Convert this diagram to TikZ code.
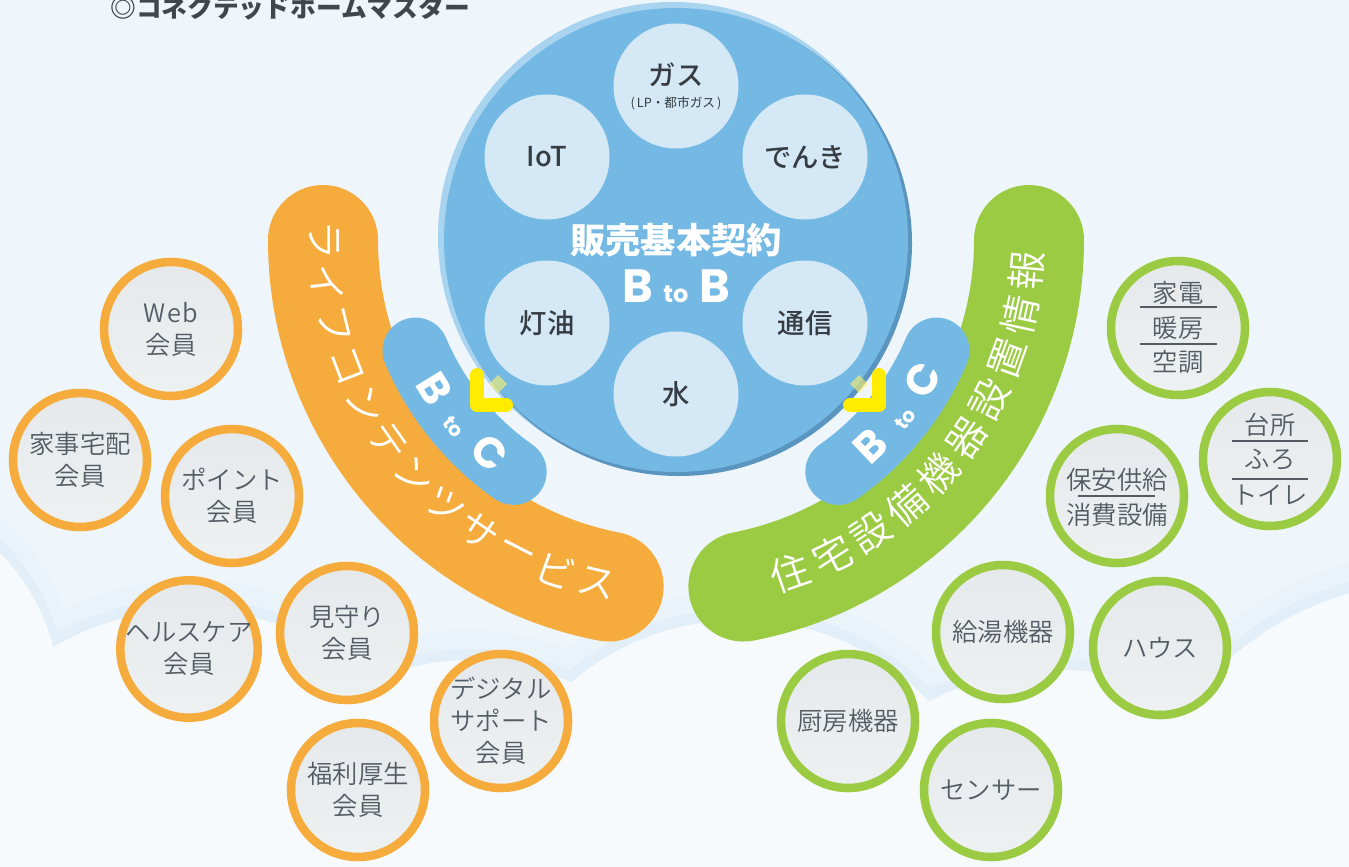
\documentclass[tikz,border=0pt]{standalone}
\usepackage{fontspec}
\setmainfont{Noto Sans CJK JP}
\newfontfamily\jp{Noto Sans CJK JP}
\IfFontExistsTF{Noto Sans CJK JP DemiLight}{\newfontfamily\jpl{Noto Sans CJK JP DemiLight}}{\newfontfamily\jpl{Noto Sans CJK JP}}
\IfFontExistsTF{Noto Sans CJK JP Medium}{\newfontfamily\jpm{Noto Sans CJK JP Medium}}{\newfontfamily\jpm{Noto Sans CJK JP}}
\newfontfamily\pop{Poppins}
\usetikzlibrary{calc}
\definecolor{bg}{HTML}{EFF6FB}
\definecolor{cloud}{HTML}{F6FAFD}
\definecolor{cloudrimA}{HTML}{EAF2FA}
\definecolor{cloudrimB}{HTML}{E2EEF8}
\definecolor{mainblue}{HTML}{74B9E4}
\definecolor{rimlight}{HTML}{A9D4EF}
\definecolor{rimdark}{HTML}{5A95C0}
\definecolor{innerblue}{HTML}{D4E8F6}
\definecolor{orangeb}{HTML}{F5AC3D}
\definecolor{greenb}{HTML}{9BCB43}
\definecolor{yel}{HTML}{FFEC00}
\definecolor{darktext}{HTML}{363C42}
\definecolor{graytext}{HTML}{535C64}
\definecolor{titlegray}{HTML}{3F464C}
\definecolor{satA}{HTML}{E5E9EB}
\definecolor{satB}{HTML}{EEF1F2}
\tikzset{
  innercirc/.style={circle, fill=innerblue, minimum size=93.75pt, inner sep=0pt, text=darktext, font=\jpm\fontsize{20.5}{24}\selectfont},
  osat/.style={circle, draw=orangeb, line width=6.4pt, top color=satA, bottom color=satB, minimum size=100.5pt, inner sep=0pt, align=center, text=graytext, font=\jpl\fontsize{19}{24}\selectfont},
  gsat/.style={osat, draw=greenb},
  sattxt/.style={inner sep=0pt, text=graytext, font=\jpl\fontsize{19}{24}\selectfont},
  bandtxt/.style={inner sep=0pt, text=white, font=\jpl\fontsize{29.5}{29.5}\selectfont},
  yellowmark/.style={draw=yel, line width=10.5pt, line cap=round, line join=round},
  divider/.style={draw=graytext, line width=1.1pt},
}
\begin{document}
\begin{tikzpicture}[x=0.75pt,y=0.75pt]
\useasboundingbox (0,0) rectangle (1349,-867);
\begin{scope}
\clip (0,0) rectangle (1349,-867);
\fill[bg] (0,0) rectangle (1349,-867);
% clouds
\foreach \cx/\cy/\r in {-150/700/210, 190/880/270, 470/900/240, 740/880/260, 1060/960/290, 1440/900/320}
  {\fill[cloudrimA] (\cx,-\cy+12) circle[radius=\r+18];}
\foreach \cx/\cy/\r in {-150/700/210, 190/880/270, 470/900/240, 740/880/260, 1060/960/290, 1440/900/320}
  {\fill[cloudrimB] (\cx,-\cy+4) circle[radius=\r+7];}
\foreach \cx/\cy/\r in {-150/700/210, 190/880/270, 470/900/240, 740/880/260, 1060/960/290, 1440/900/320}
  {\fill[cloud] (\cx,-\cy) circle[radius=\r];}

\coordinate (C) at (676,-240);
% bands
\draw[orangeb, line width=82.5pt, line cap=round] ($(C)+(180:353)$) arc[start angle=180, end angle=259, radius=353];
\draw[greenb, line width=82.5pt, line cap=round] ($(C)+(281:353)$) arc[start angle=281, end angle=360, radius=353];
% B to C tabs
\draw[mainblue, line width=49.5pt, line cap=round] ($(C)+(203:283)$) arc[start angle=203, end angle=235, radius=283];
\draw[mainblue, line width=49.5pt, line cap=round] ($(C)+(305:283)$) arc[start angle=305, end angle=337, radius=283];

% main circle
\fill[rimlight] (673,-237) circle[radius=235];
\fill[rimdark] (679,-243) circle[radius=233];
\node[circle, fill=mainblue, minimum size=348pt, inner sep=0pt] (hub) at (C) {};

\node[innercirc] (gas) at (676,-86) {};
\node[inner sep=0pt, text=darktext, font=\jpm\fontsize{20.5}{24}\selectfont] (gastxt) at (676,-75) {ガス};
\node[inner sep=0pt, text=darktext, font=\jp\fontsize{9.5}{10}\selectfont] (gassub) at (676,-103) {(\,LP・都市ガス\,)};
\node[innercirc] (iot) at (547,-157) {IoT};
\node[innercirc] (denki) at (805,-157) {でんき};
\node[innercirc] (toyu) at (547,-323) {灯油};
\node[innercirc] (tsushin) at (805,-323) {通信};
\node[innercirc] (mizu) at (676,-394) {水};

\node[inner sep=0pt, text=white, font=\jp\bfseries\fontsize{26.5}{26.5}\selectfont] (hubtitle) at (676,-240) {販売基本契約};
\node[anchor=base, inner sep=0pt, text=white, font=\pop\bfseries\fontsize{35}{35}\selectfont] (btob) at (676,-302) {B\hspace{8pt}{\fontsize{18}{18}\selectfont to}\hspace{8pt}B};

% band texts
\foreach \ch [count=\i from 0] in {ラ,イ,フ,コ,ン,テ,ン,ツ,サ,ー,ビ,ス} {
  \pgfmathsetmacro\ang{180+7*\i}
  \node[bandtxt, rotate=\ang+90] (lc\i) at ($(C)+(\ang:352)$) {\ch};
}
\foreach \ch [count=\i from 0] in {住,宅,設,備,機,器,設,置,情,報} {
  \pgfmathsetmacro\ang{289+7.33*\i}
  \node[bandtxt, rotate=\ang+90] (gc\i) at ($(C)+(\ang:352)$) {\ch};
}
% B to C texts
\foreach \t/\a/\s/\nm in {B/211.6/32/lb, to/220/15/lt, C/228.9/32/lc, B/313.4/32/rb, to/322/15/rt, C/330.4/32/rc} {
  \node[anchor=base, inner sep=0pt, text=white, font=\pop\bfseries\fontsize{\s}{\s}\selectfont, rotate=\a+90] (\nm) at ($(C)+(\a:298)$) {\t};
}

% yellow marks
\draw[yellowmark] (477,-375) -- (477,-405) -- (506,-405);
\draw[yellowmark] (879,-375) -- (879,-405) -- (850,-405);
\fill[yel!60!white, opacity=0.6] (498,-375) -- (507,-384) -- (498,-393) -- (489,-384) -- cycle;
\fill[yel!60!white, opacity=0.6] (859,-375) -- (868,-384) -- (859,-393) -- (850,-384) -- cycle;

% orange satellites
\node[osat] (web) at (171,-329) {W\kern1pt e\kern1pt b\\会員};
\node[osat] (kaji) at (80,-460) {家事宅配\\会員};
\node[osat] (point) at (232,-496) {ポイント\\会員};
\node[osat] (health) at (189,-649) {ヘルスケア\\会員};
\node[osat] (mimamori) at (347,-633) {見守り\\会員};
\node[osat] (digital) at (501,-721) {デジタル\\サポート\\会員};
\node[osat] (fukuri) at (358,-790) {福利厚生\\会員};

% green satellites
\node[gsat] (kaden) at (1178,-328) {};
\node[sattxt] (kaden1) at (1178,-293) {家電};
\node[sattxt] (kaden2) at (1178,-328) {暖房};
\node[sattxt] (kaden3) at (1178,-362) {空調};
\draw[divider] (1140,-307) -- (1217,-307);
\draw[divider] (1140,-344) -- (1217,-344);

\node[gsat] (daidokoro) at (1270,-459) {};
\node[sattxt] (dai1) at (1270,-425) {台所};
\node[sattxt] (dai2) at (1270,-460) {ふろ};
\node[sattxt] (dai3) at (1270,-495) {トイレ};
\draw[divider] (1232,-441) -- (1308,-441);
\draw[divider] (1232,-479) -- (1308,-479);

\node[gsat] (hoan) at (1117,-496) {};
\node[sattxt] (hoan1) at (1117,-480) {保安供給};
\node[sattxt] (hoan2) at (1117,-515) {消費設備};
\draw[divider] (1078,-496) -- (1155,-496);

\node[gsat] (kyuto) at (1003,-632) {給湯機器};
\node[gsat] (house) at (1160,-648) {ハウス};
\node[gsat] (chubo) at (848,-721) {厨房機器};
\node[gsat] (sensor) at (991,-790) {センサー};

% title
\node[anchor=base west, inner sep=0pt, text=titlegray, font=\jp\bfseries\fontsize{19.3}{19.3}\selectfont] (title) at (110,-18) {◎コネクテッドホームマスター};
\end{scope}
\end{tikzpicture}
\end{document}
